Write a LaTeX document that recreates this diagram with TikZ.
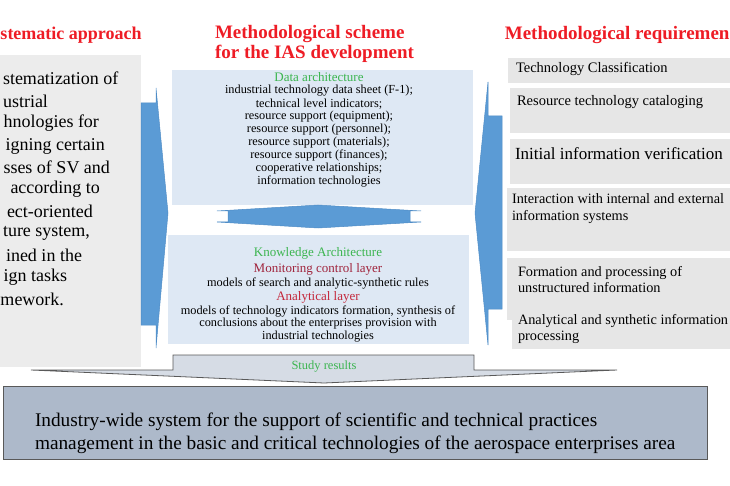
\documentclass[tikz,border=0pt]{standalone}
\usepackage{fontspec}
\setmainfont{Liberation Serif}
\definecolor{lgray}{HTML}{ECECEC}
\definecolor{rgray}{HTML}{E6E6E6}
\definecolor{lblue}{HTML}{DEE8F4}
\definecolor{ablue}{HTML}{5B9BD5}
\definecolor{aedge}{HTML}{4F8CC6}
\definecolor{tred}{HTML}{EE1C25}
\definecolor{tgreen}{HTML}{3CB550}
\definecolor{dred}{HTML}{A0243C}
\definecolor{mred}{HTML}{C4283C}
\definecolor{sfill}{HTML}{D6DCE5}
\definecolor{bfill}{HTML}{ADB9CA}
\definecolor{edgec}{HTML}{595959}
\newcommand\myfs[1]{\fontsize{#1}{#1}\selectfont}
\tikzset{
  txt/.style={inner sep=0pt, outer sep=0pt},
  ttl/.style={txt, text=tred, font=\myfs{19}\bfseries},
  ltxt/.style={txt, anchor=west, font=\myfs{18}},
  ctxt/.style={txt, font=\myfs{12.3}},
  chead/.style={txt, font=\myfs{13}},
  rtxt/.style={txt, anchor=west, font=\myfs{14.5}},
  bigarrow/.style={fill=ablue, draw=aedge, line width=0.5pt, line join=miter},
}
\begin{document}
\begin{tikzpicture}[x=1pt,y=-1pt]
\useasboundingbox (0,0) rectangle (730,486);
\clip (0,0) rectangle (730,486);

% titles
\node[ttl, anchor=west, font=\myfs{18}\bfseries] (tleft) at (0.5,35) {stematic approach};
\node[ttl, align=left, anchor=west, font=\fontsize{19}{20}\selectfont\bfseries] (tmid) at (215,43.5) {Methodological scheme\\for the IAS development};
\node[ttl, anchor=east] (tright) at (729.5,35) {Methodological requiremen};

% left box
\fill[lgray] (0,55) rectangle (141,367);
\node[ltxt] (l1) at (3,78) {stematization of};
\node[ltxt] (l2) at (3,101) {ustrial};
\node[ltxt] (l3) at (3.5,123) {hnologies for};
\node[ltxt] (l4) at (5.5,146) {igning certain};
\node[ltxt] (l5) at (3.5,167) {sses of SV and};
\node[ltxt] (l6) at (10.5,189) {according to};
\node[ltxt] (l7) at (7,211) {ect-oriented};
\node[ltxt] (l8) at (3,233) {ture system,};
\node[ltxt] (l9) at (6,255) {ined in the};
\node[ltxt] (l10) at (3.5,277) {ign tasks};
\node[ltxt] (l11) at (0.5,299) {mework.};

% center boxes
\fill[lblue] (172,70) rectangle (473,205);
\node[chead, text=tgreen] (dh) at (319,77) {Data architecture};
\node[ctxt] (d1) at (319,91) {industrial technology data sheet (F-1);};
\node[ctxt] (d2) at (319,103.9) {technical level indicators;};
\node[ctxt] (d3) at (319,116.7) {resource support (equipment);};
\node[ctxt] (d4) at (319,129.6) {resource support (personnel);};
\node[ctxt] (d5) at (319,142.4) {resource support (materials);};
\node[ctxt] (d6) at (319,155.3) {resource support (finances);};
\node[ctxt] (d7) at (319,168.1) {cooperative relationships;};
\node[ctxt] (d8) at (319,181) {information technologies};

\fill[lblue] (168,235) rectangle (469,344);
\node[chead, text=tgreen] (kh) at (318,253) {Knowledge Architecture};
\node[chead, text=dred] (k1) at (318,269) {Monitoring control layer};
\node[ctxt] (k2) at (318,283) {models of search and analytic-synthetic rules};
\node[chead, text=mred] (k3) at (318,297) {Analytical layer};
\node[ctxt] (k4) at (318,311) {models of technology indicators formation, synthesis of};
\node[ctxt] (k5) at (318,324) {conclusions about the enterprises provision with};
\node[ctxt] (k6) at (318,337) {industrial technologies};

% arrows
\draw[bigarrow] (141,103) -- (156,103) -- (156,88) -- (168,213) -- (156,348) -- (156,325) -- (141,325) -- cycle;
\draw[bigarrow] (502,116) -- (488,116) -- (488,82) -- (475,213) -- (488,345) -- (488,309) -- (502,309) -- cycle;
\draw[bigarrow] (228,211) -- (217,211) -- (318,205) -- (421,211) -- (410,211) -- (410,222) -- (421,222) -- (318,228) -- (217,222) -- (228,222) -- cycle;

% right boxes
\fill[rgray] (508,58) rectangle (735,83);
\fill[rgray] (510,88) rectangle (735,133);
\fill[rgray] (510,139) rectangle (735,184);
\fill[rgray] (507,188) rectangle (735,251);
\fill[rgray] (507,258) rectangle (735,320);
\fill[rgray] (512,300) rectangle (735,349);
\node[rtxt] (r1) at (516,69) {Technology Classification};
\node[rtxt] (r2) at (517,102) {Resource technology cataloging};
\node[rtxt, font=\myfs{17}] (r3) at (515,154) {Initial information verification};
\node[rtxt, align=left, font=\fontsize{14.3}{17}\selectfont] (r4) at (512,208.5) {Interaction with internal and external\\information systems};
\node[rtxt, align=left, font=\fontsize{14.3}{16}\selectfont] (r5) at (518,280) {Formation and processing of\\unstructured information};
\node[rtxt, align=left, font=\fontsize{14.3}{16}\selectfont] (r6) at (518,329) {Analytical and synthetic information\\processing};

% study results arrow
\draw[fill=sfill, draw=edgec, line width=0.8pt, line join=miter] (173,355) -- (474,355) -- (474,370) -- (617,370) -- (324,383) -- (31,370) -- (173,370) -- cycle;
\node[txt, text=tgreen, font=\myfs{12.5}] (sr) at (324,367) {Study results};

% bottom box
\draw[fill=bfill, draw=edgec, line width=1pt] (3,386) rectangle (707,459);
\node[txt, anchor=west, align=left, font=\fontsize{19.3}{23}\selectfont] (bt) at (35,433) {Industry-wide system for the support of scientific and technical practices\\management in the basic and critical technologies of the aerospace enterprises area};
\end{tikzpicture}
\end{document}
